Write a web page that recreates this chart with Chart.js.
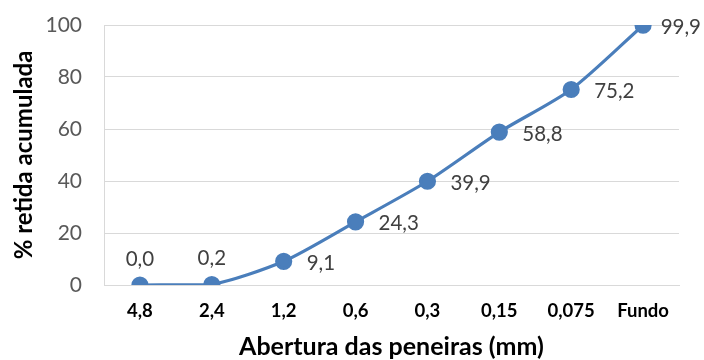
<!DOCTYPE html>
<html>
<head>
<meta charset="utf-8">
<script src="https://cdn.jsdelivr.net/npm/chart.js@4/dist/chart.umd.min.js"></script>
<style>
  html, body { margin: 0; padding: 0; background: #ffffff; }
  #wrap { width: 704px; height: 360px; position: relative; }
</style>
</head>
<body>
<div id="wrap"><canvas id="c" width="704" height="360"></canvas></div>
<script>
// Peneiras (abertura em mm) e % retida acumulada
const peneiras = ['4,8', '2,4', '1,2', '0,6', '0,3', '0,15', '0,075', 'Fundo'];
const retidaAcumulada = [0.0, 0.2, 9.1, 24.3, 39.9, 58.8, 75.2, 99.9];
const yTicks = [0, 20, 40, 60, 80, 100];

const FONT = 'Lato, "Open Sans", sans-serif';
const BLUE = '#4a7ebb';

// Rótulos de valor: os dois primeiros acima do ponto, os demais à direita
const valueLabels = {
  id: 'valueLabels',
  afterDatasetsDraw(chart) {
    const ctx = chart.ctx;
    const meta = chart.getDatasetMeta(0);
    ctx.save();
    ctx.font = '20.5px ' + FONT;
    ctx.fillStyle = '#404040';
    ctx.textBaseline = 'middle';
    meta.data.forEach((pt, i) => {
      const txt = retidaAcumulada[i].toFixed(1).replace('.', ',');
      if (i < 2) {
        ctx.textAlign = 'center';
        ctx.fillText(txt, pt.x, pt.y - 26);
      } else {
        ctx.textAlign = 'left';
        const w = ctx.measureText(txt).width;
        const x = Math.min(pt.x + 23, chart.width - w - 3);
        ctx.fillText(txt, x, pt.y + 2);
      }
    });
    ctx.restore();
  }
};

new Chart(document.getElementById('c'), {
  type: 'line',
  data: {
    labels: peneiras,
    datasets: [{
      data: retidaAcumulada,
      borderColor: BLUE,
      backgroundColor: BLUE,
      borderWidth: 3.2,
      pointRadius: 7,
      pointHoverRadius: 7,
      pointBackgroundColor: BLUE,
      pointBorderColor: BLUE,
      tension: 0.25,
      fill: false
    }]
  },
  options: {
    responsive: false,
    animation: false,
    devicePixelRatio: 1,
    layout: { padding: { left: 0, right: 25, top: 25, bottom: 0 } },
    plugins: {
      legend: { display: false },
      tooltip: { enabled: false }
    },
    scales: {
      x: {
        offset: true,
        grid: { display: false, drawTicks: false },
        border: { display: true, color: '#d9d9d9', width: 1 },
        ticks: {
          padding: 15,
          color: '#000000',
          font: { family: FONT, size: 18.5, weight: 'bold' },
          maxRotation: 0,
          autoSkip: false
        },
        title: {
          display: true,
          text: 'Abertura das peneiras (mm)',
          color: '#000000',
          font: { family: FONT, size: 25, weight: 'bold', lineHeight: 1 },
          padding: { top: 0, bottom: 1 }
        },
        afterFit(scale) {
          scale.height = 75;
          scale.paddingLeft = 0;
          scale.paddingRight = 0;
        }
      },
      y: {
        min: 0,
        max: 100,
        afterBuildTicks(scale) { scale.ticks = yTicks.map(v => ({ value: v })); },
        grid: { color: '#d9d9d9', lineWidth: 1, drawTicks: false },
        border: { display: true, color: '#d9d9d9', width: 1 },
        ticks: {
          padding: 22,
          color: '#595959',
          font: { family: FONT, size: 21 }
        },
        title: {
          display: true,
          text: '% retida acumulada',
          color: '#000000',
          font: { family: FONT, size: 24, weight: 'bold' },
          padding: { top: 10, bottom: 0 }
        },
        afterFit(scale) {
          scale.width = 104;
          scale.paddingTop = 0;
          scale.paddingBottom = 0;
        }
      }
    }
  },
  plugins: [valueLabels]
});
</script>
</body>
</html>
